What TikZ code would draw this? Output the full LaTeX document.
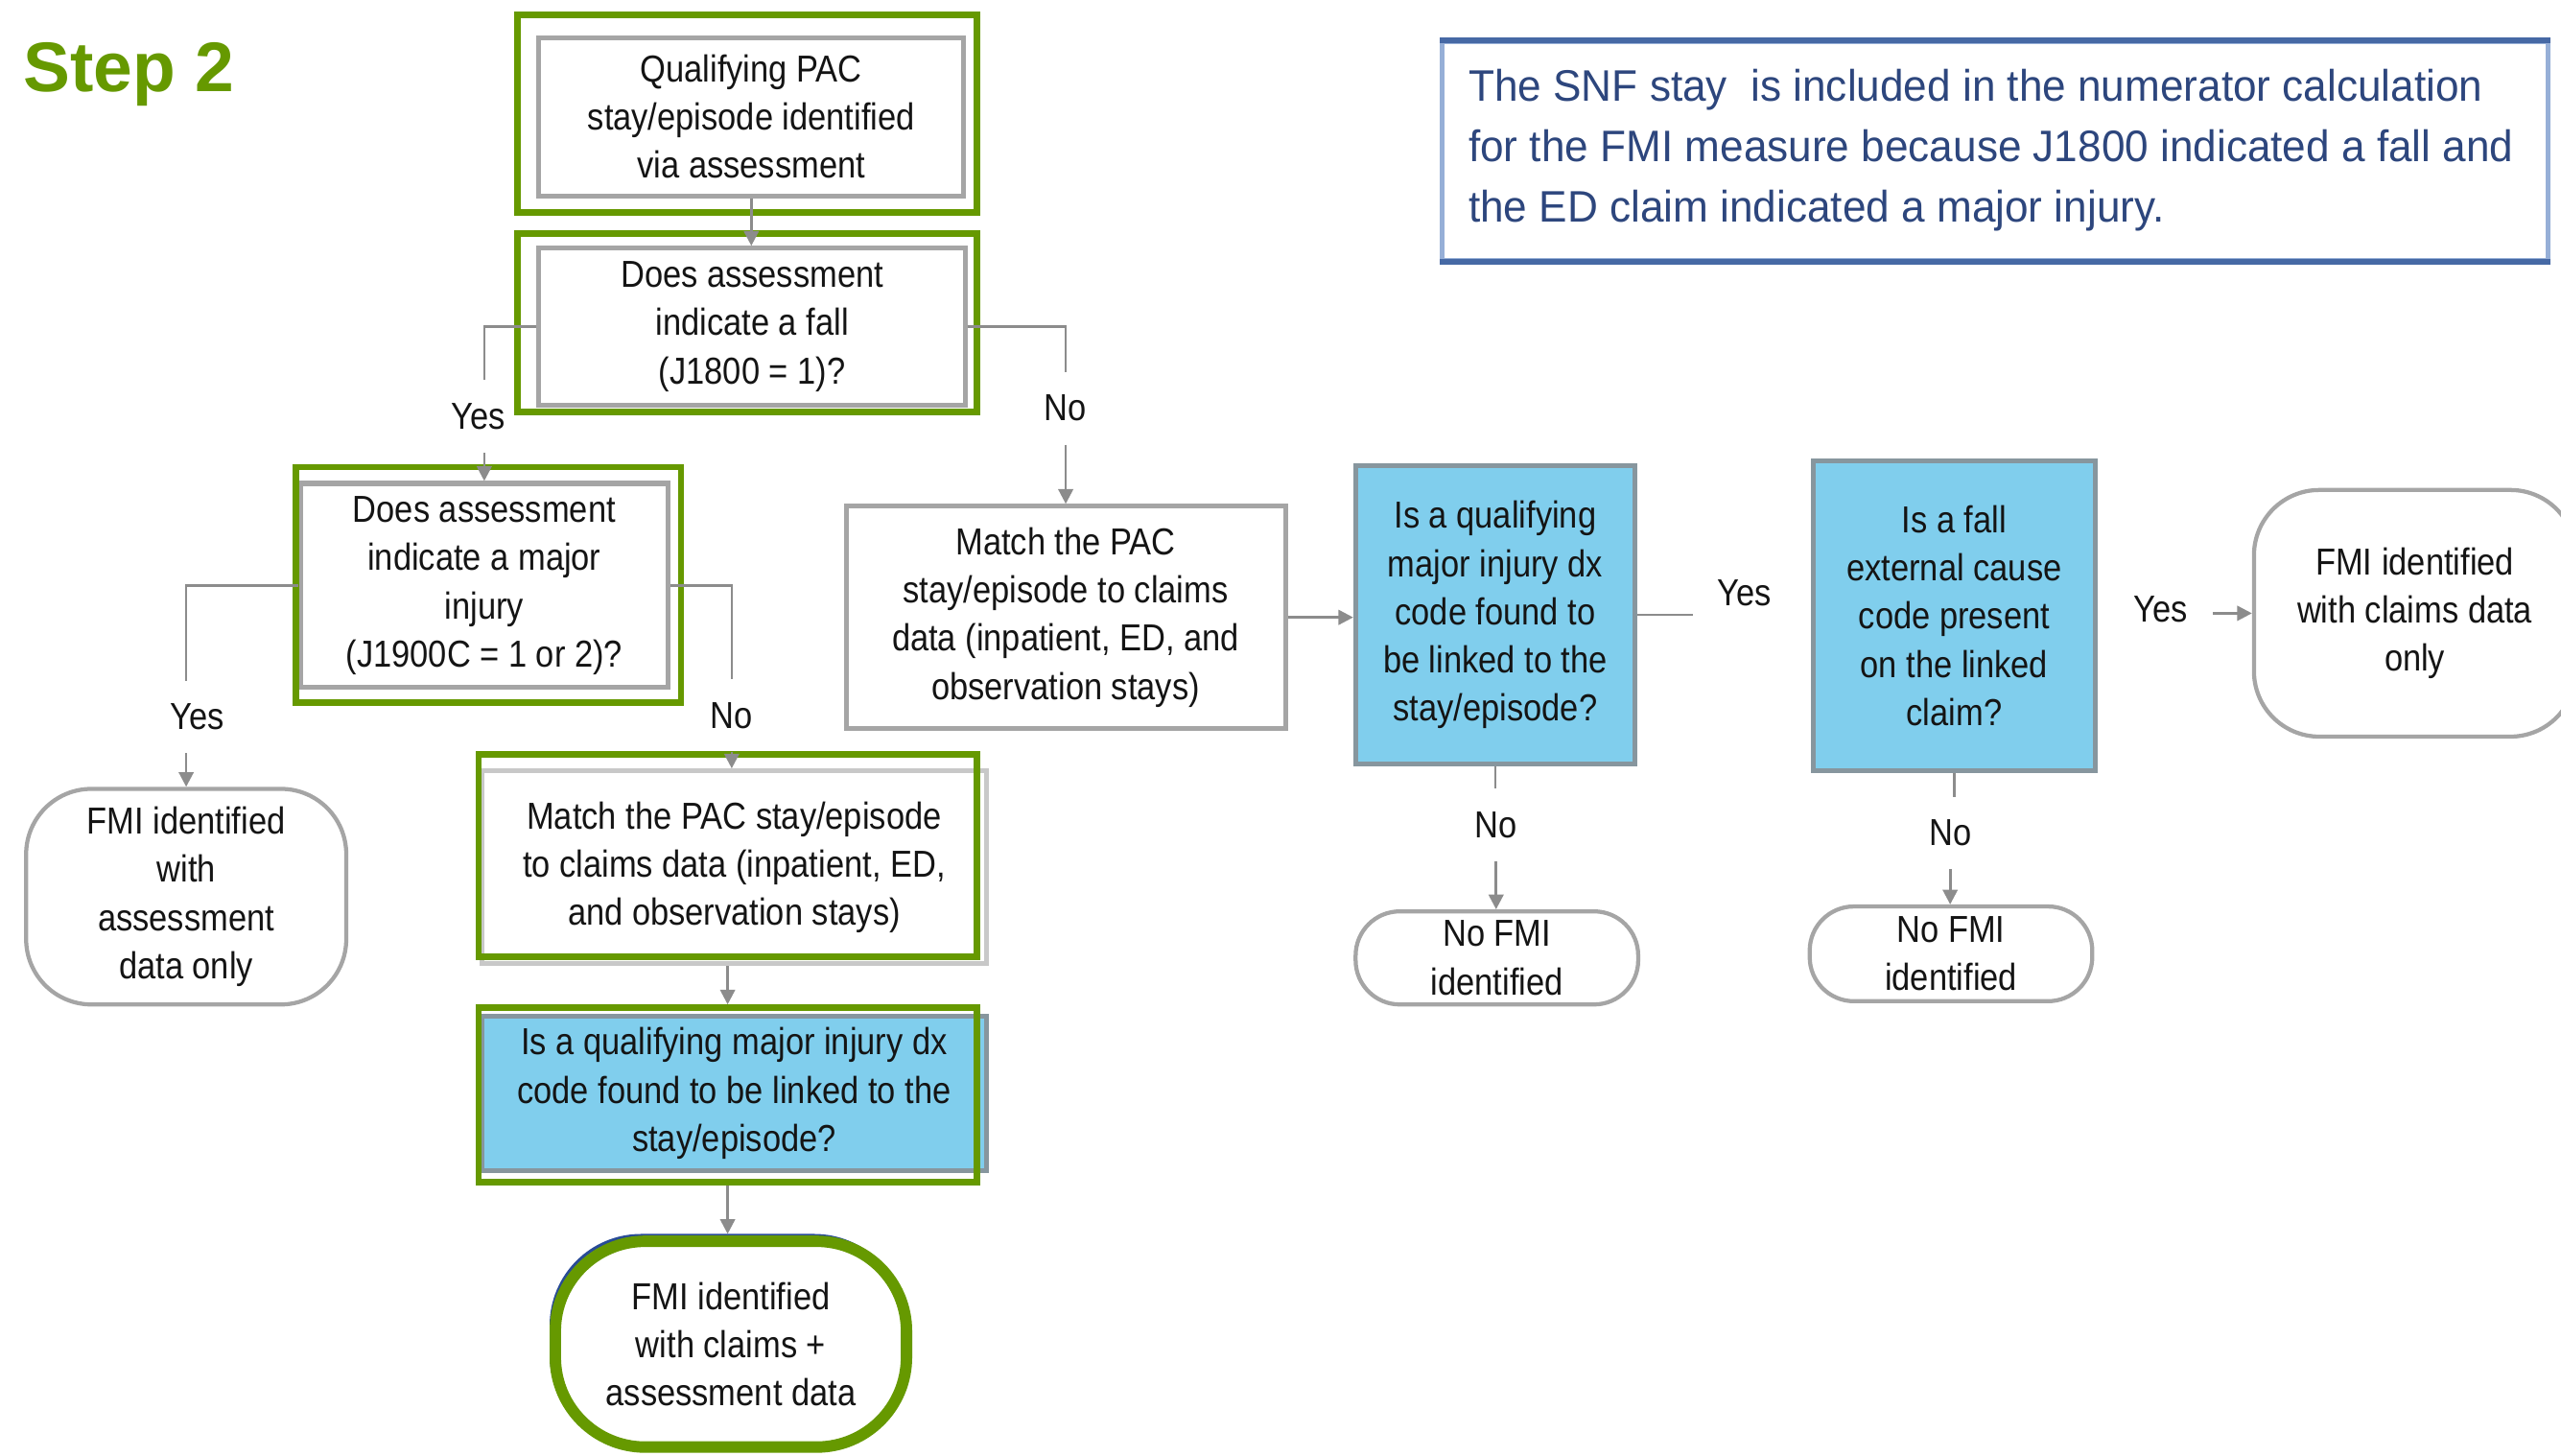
\documentclass[tikz,border=0pt]{standalone}
\usepackage{fontspec}
\setmainfont{Liberation Sans}
\newfontfamily\boxfont[FakeStretch=0.88]{Liberation Sans}
\newfontfamily\notefont[FakeStretch=0.96]{Liberation Sans}
\usetikzlibrary{arrows.meta,calc}
\definecolor{fgreen}{RGB}{102,153,0}
\definecolor{boxgray}{RGB}{165,165,165}
\definecolor{lgray}{RGB}{200,200,200}
\definecolor{skyb}{RGB}{128,206,237}
\definecolor{bluegray}{RGB}{135,150,158}
\definecolor{linegray}{RGB}{140,140,140}
\definecolor{txtc}{RGB}{20,20,20}
\definecolor{notec}{RGB}{45,70,125}
\definecolor{noteside}{RGB}{150,175,215}
\definecolor{noteedge}{RGB}{70,105,165}
\definecolor{navy}{RGB}{40,75,150}
\begin{document}
\begin{tikzpicture}[x=1pt,y=-1pt,
 txt/.style={font=\boxfont\fontsize{23}{29.5}\selectfont, text=txtc, align=center, inner sep=0pt},
 sz/.style 2 args={minimum width=#1pt, minimum height=#2pt},
 graybox/.style={txt, draw=boxgray, line width=3pt, fill=white},
 gframe/.style={draw=fgreen, line width=4pt, inner sep=0pt},
 bluebox/.style={txt, draw=bluegray, line width=3pt, fill=skyb},
 term/.style={txt, draw=boxgray, line width=2.5pt, fill=white, rounded corners=#1},
 lbl/.style={font=\boxfont\fontsize{23}{29.5}\selectfont, text=txtc, inner xsep=15pt, inner ysep=0pt, minimum height=44pt},
 conn/.style={draw=linegray, line width=1.6pt},
 arr/.style={conn, -{Triangle[length=9pt,width=9pt]}},
]
\useasboundingbox (0,0) rectangle (1568,891);

% title
\node[font=\bfseries\fontsize{43}{43}\selectfont, text=fgreen, anchor=base west, inner sep=0pt] (step) at (14,56) {Step 2};

% note
\node[draw=noteside, line width=2.5pt, sz={677}{133}, inner sep=0pt] (note) at (1221.5,92.5) {};
\draw[noteedge, line width=3.5pt] (note.north west) -- (note.north east);
\draw[noteedge, line width=3.5pt] (note.south west) -- (note.south east);
\node[font=\notefont\fontsize{27}{37}\selectfont, text=notec, align=left, anchor=west, inner sep=0pt] (notetxt) at (899,92)
 {The SNF stay\ \ is included in the numerator calculation\\for the FMI measure because J1800 indicated a fall and\\the ED claim indicated a major injury.};

% left column
\node[graybox, sz={260}{97}] (b1) at (460,71.5) {Qualifying PAC\\stay/episode identified\\via assessment};
\node[gframe, sz={281}{121}] (b1g) at (457.5,69.5) {};

\node[graybox, sz={261}{96}] (b2) at (460.5,200) {Does assessment\\indicate a fall\\(J1800 = 1)?};
\node[gframe, sz={281}{109}] (b2g) at (457.5,197.5) {};

\node[graybox, sz={225}{125}] (b3) at (296.5,358.5) {Does assessment\\indicate a major\\injury\\(J1900C = 1 or 2)?};
\node[gframe, sz={236}{144}] (b3g) at (299,358) {};

\node[term=40pt, sz={196}{132}] (fmi1) at (114,549) {FMI identified\\with\\assessment\\data only};

\node[graybox, draw=lgray, sz={309}{118}] (m2) at (449.5,531) {Match the PAC stay/episode\\to claims data (inpatient, ED,\\and observation stays)};
\node[gframe, sz={305}{124}] (m2g) at (445.5,524) {};

\node[bluebox, sz={309}{95}] (q3) at (449.5,669.5) {Is a qualifying major injury dx\\code found to be linked to the\\stay/episode?};
\node[gframe, sz={305}{107}] (q3g) at (445.5,670.5) {};

\node[draw=navy, line width=2pt, rounded corners=55pt, sz={216}{128}] (finb) at (445.5,820.5) {};
\node[txt, draw=fgreen, line width=7pt, rounded corners=55pt, sz={215}{126}] (fin) at (447.5,823) {FMI identified\\with claims +\\assessment data};

% right part
\node[graybox, sz={269}{136}] (m1) at (652.5,378) {Match the PAC\\stay/episode to claims\\data (inpatient, ED, and\\observation stays)};
\node[bluebox, sz={171}{183}] (q1) at (915.5,376.5) {Is a qualifying\\major injury dx\\code found to\\be linked to the\\stay/episode?};
\node[bluebox, sz={173}{190}] (q2) at (1196.5,377) {Is a fall\\external cause\\code present\\on the linked\\claim?};
\node[term=40pt, sz={197}{151}] (fmi3) at (1478.5,375.5) {FMI identified\\with claims data\\only};
\node[term=27pt, sz={173}{57}] (n1) at (916.5,586.5) {No FMI\\identified};
\node[term=27pt, sz={173}{58}] (n2) at (1194.5,584) {No FMI\\identified};

% labels
\node[lbl] (y1) at (293,255) {Yes};
\node[lbl] (no1) at (652,250) {No};
\node[lbl] (y2) at (121,439) {Yes};
\node[lbl] (no2) at (448,438) {No};
\node[lbl] (y3) at (1068,363) {Yes};
\node[lbl] (y4) at (1323,373) {Yes};
\node[lbl] (no3) at (916,505) {No};
\node[lbl] (no4) at (1194,510) {No};

% connectors
\draw[arr] (b1.south) -- (b1.south |- b2.north);
\draw[conn] (b2.west) -| (b3.north |- y1.north);
\draw[arr] (b3.north |- y1.south) -- (b3.north);
\draw[conn] (b2.east) -| (m1.north |- no1.north);
\draw[arr] (m1.north |- no1.south) -- (m1.north);
\draw[conn] (b3.west) -| (fmi1.north |- y2.north);
\draw[arr] (fmi1.north |- y2.south) -- (fmi1.north);
\draw[conn] (b3.east) -| (no2.north);
\draw[arr] (no2.south) -- (no2.south |- m2.north);
\draw[arr] (m2.south -| m2g.south) -- (m2g.south |- q3g.north);
\draw[arr] (q3g.south) -- (q3g.south |- finb.north);
\draw[arr] (m1.east) -- (m1.east -| q1.west);
\draw[conn] (q1.east) -- (q1.east -| y3.west);
\draw[arr] (y4.east |- fmi3.west) -- (fmi3.west);
\draw[conn] (q1.south) -- (q1.south |- no3.north);
\draw[arr] (no3.south) -- (no3.south |- n1.north);
\draw[conn] (q2.south) -- (q2.south |- no4.north);
\draw[arr] (no4.south) -- (no4.south |- n2.north);
\end{tikzpicture}
\end{document}
